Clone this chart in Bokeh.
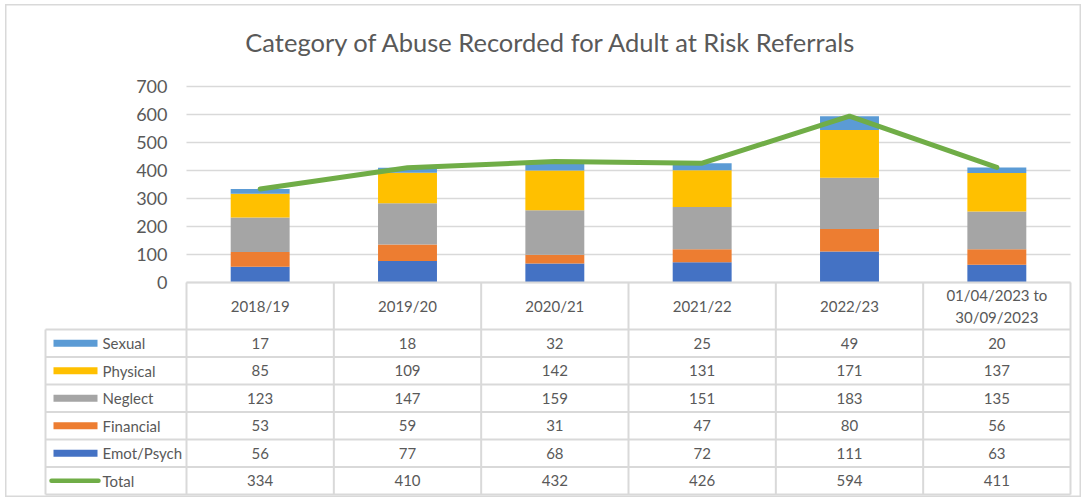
from bokeh.plotting import figure
from bokeh.models import ColumnDataSource, Range1d
from bokeh.core.properties import value
from bokeh.embed import file_html
from bokeh.resources import INLINE

# ---------------- data ----------------
categories = ["2018/19", "2019/20", "2020/21", "2021/22", "2022/23", "01/04/2023 to\n30/09/2023"]
series_names = ["Sexual", "Physical", "Neglect", "Financial", "Emot/Psych"]
sexual = [17, 18, 32, 25, 49, 20]
physical = [85, 109, 142, 131, 171, 137]
neglect = [123, 147, 159, 151, 183, 135]
financial = [53, 59, 31, 47, 80, 56]
emot_psych = [56, 77, 68, 72, 111, 63]
total = [334, 410, 432, 426, 594, 411]
y_ticks = [0, 100, 200, 300, 400, 500, 600, 700]
y_tick_labels = [str(t) for t in y_ticks]
title_text = "Category of Abuse Recorded for Adult at Risk Referrals"

colors = {"Sexual": "#5b9bd5", "Physical": "#ffc000", "Neglect": "#a5a5a5",
          "Financial": "#ed7d31", "Emot/Psych": "#4472c4"}
line_color = "#70ad47"
text_color = "#595959"
grid_color = "#d9d9d9"
FONT = "Lato"

# ---------------- layout helpers (pixel -> plot units) ----------------
COL_PX = (1070 - 186) / 6.0
def X(px):
    return (px - 186) / COL_PX
def Y(py):
    return (282 - py) / 0.28

ORIGIN_X, ORIGIN_Y = 5, 4
W, H = 1076, 493

p = figure(width=W, height=H, output_backend="svg", toolbar_location=None,
           x_range=Range1d(X(ORIGIN_X), X(ORIGIN_X + W)),
           y_range=Range1d(Y(ORIGIN_Y + H), Y(ORIGIN_Y)),
           x_axis_type=None, y_axis_type=None, min_border=0,
           background_fill_color="white", border_fill_color="white",
           outline_line_color="#d9d9d9", outline_line_width=2)
p.grid.visible = False
p.styles = {"margin-left": f"{ORIGIN_X}px", "margin-top": f"{ORIGIN_Y}px"}

n = len(categories)
centers = [i + 0.5 for i in range(n)]

# gridlines at tick values
p.segment(x0=[0] * len(y_ticks), x1=[n] * len(y_ticks), y0=y_ticks, y1=y_ticks,
          line_color=grid_color, line_width=1.6)

# stacked bars
src = ColumnDataSource(dict(x=centers, Sexual=sexual, Physical=physical, Neglect=neglect,
                            Financial=financial, **{"Emot/Psych": emot_psych}))
stack_order = ["Emot/Psych", "Financial", "Neglect", "Physical", "Sexual"]
p.vbar_stack(stack_order, x="x", width=0.4, source=src,
             color=[colors[s] for s in stack_order], line_color=None)

# total line
p.line(centers, total, line_color=line_color, line_width=5,
       line_join="round", line_cap="round")

# y tick labels
p.text(x=[X(167)] * len(y_ticks), y=y_ticks, text=y_tick_labels,
       text_font=value(FONT), text_font_size="18px", text_color=text_color,
       text_align="right", text_baseline="middle")

# title
p.text(x=[X(551)], y=[Y(41)], text=[title_text], text_font=value(FONT),
       text_font_size="25.5px", text_color=text_color, text_align="center",
       text_baseline="middle")

# ---------------- data table ----------------
header_top, rows_top, table_bottom, legend_left = 282, 329, 494, 45
row_h = (table_bottom - rows_top) / 6.0
row_bounds = [rows_top + k * row_h for k in range(7)]

# horizontal lines
p.segment(x0=[0], x1=[n], y0=[Y(header_top)], y1=[Y(header_top)],
          line_color=grid_color, line_width=2)
p.segment(x0=[X(legend_left)] * 7, x1=[n] * 7, y0=[Y(b) for b in row_bounds],
          y1=[Y(b) for b in row_bounds], line_color=grid_color, line_width=2)
# vertical lines
p.segment(x0=list(range(n + 1)), x1=list(range(n + 1)),
          y0=[Y(header_top)] * (n + 1), y1=[Y(table_bottom)] * (n + 1),
          line_color=grid_color, line_width=2)
p.segment(x0=[X(legend_left)], x1=[X(legend_left)], y0=[Y(rows_top)], y1=[Y(table_bottom)],
          line_color=grid_color, line_width=2)

# header labels
p.text(x=centers, y=[Y((header_top + rows_top) / 2)] * n, text=categories,
       text_font=value(FONT), text_font_size="15px", text_color=text_color,
       text_align="center", text_baseline="middle", text_line_height=1.25)

table_rows = [("Sexual", sexual), ("Physical", physical), ("Neglect", neglect),
              ("Financial", financial), ("Emot/Psych", emot_psych), ("Total", total)]
for r, (name, vals) in enumerate(table_rows):
    yc = Y(row_bounds[r] + row_h / 2)
    p.text(x=centers, y=[yc] * n, text=[str(v) for v in vals],
           text_font=value(FONT), text_font_size="15px", text_color=text_color,
           text_align="center", text_baseline="middle")
    if name == "Total":
        p.segment(x0=[X(51)], x1=[X(98)], y0=[yc], y1=[yc], line_color=line_color,
                  line_width=4.5, line_cap="round")
    else:
        p.rect(x=[(X(53) + X(97)) / 2], y=[yc], width=44, height=7,
               width_units="screen", height_units="screen",
               fill_color=colors[name], line_color=None)
    p.text(x=[X(102)], y=[yc], text=[name], text_font=value(FONT),
           text_font_size="15px", text_color=text_color, text_align="left",
           text_baseline="middle")

open("out.html", "w").write(file_html(p, INLINE))
